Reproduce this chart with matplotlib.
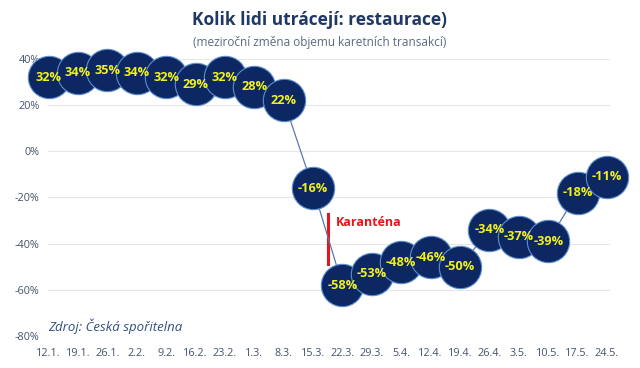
import matplotlib.pyplot as plt

# data
tydny = ['12.1.', '19.1.', '26.1.', '2.2.', '9.2.', '16.2.', '23.2.', '1.3.', '8.3.', '15.3.',
         '22.3.', '29.3.', '5.4.', '12.4.', '19.4.', '26.4.', '3.5.', '10.5.', '17.5.', '24.5.']
zmena = [32, 34, 35, 34, 32, 29, 32, 28, 22, -16,
         -58, -53, -48, -46, -50, -34, -37, -39, -18, -11]
y_ticks = [-80, -60, -40, -20, 0, 20, 40]

plt.rcParams['font.family'] = ['Open Sans', 'DejaVu Sans']

fig = plt.figure(figsize=(6.4, 3.68), dpi=100)
ax = fig.add_axes([0.075, 0.087, 0.878, 0.753])

x = list(range(len(tydny)))
ax.plot(x, zmena, color='#5a78a8', linewidth=0.9, zorder=2, clip_on=False)
ax.plot(x, zmena, linestyle='none', marker='o', markersize=30.5, clip_on=False,
        markerfacecolor='#0c2762', markeredgecolor='#5b8fd0', markeredgewidth=0.8, zorder=3)
for xi, v in zip(x, zmena):
    ax.text(xi, v, f'{v}%', ha='center', va='center', color='#f2f21a',
            fontsize=9.2, fontweight='bold', zorder=4)

# karantena
ax.plot([9.52, 9.52], [-27, -49], color='#e8141c', linewidth=2.2, zorder=1)
ax.text(9.78, -31, 'Karanténa', color='#e8141c', fontsize=9, fontweight='bold',
        ha='left', va='center')

ax.set_xlim(-0.02, 19.1)
ax.set_ylim(-80, 40)
ax.set_yticks(y_ticks)
ax.set_yticklabels([f'{t}%' for t in y_ticks])
ax.set_xticks(x)
ax.set_xticklabels(tydny)
ax.tick_params(axis='both', length=0, labelsize=7.8, colors='#44546a')
ax.tick_params(axis='x', pad=9)
ax.tick_params(axis='y', pad=6)
ax.grid(axis='y', color='#e6e6e6', linewidth=0.8)
ax.set_axisbelow(True)
for s in ax.spines.values():
    s.set_visible(False)

fig.text(0.5, 0.945, 'Kolik lidi utrácejí: restaurace)', ha='center', va='center',
         fontsize=12.5, fontweight='bold', color='#1f3864')
fig.text(0.5, 0.885, '(meziroční změna objemu karetních transakcí)', ha='center', va='center',
         fontsize=8.5, color='#5a6a80')
ax.text(0.0, -76, 'Zdroj: Česká spořitelna', ha='left', va='center', fontsize=9.5,
        style='italic', color='#2f4f80')

fig.savefig('out.png', dpi=100)
